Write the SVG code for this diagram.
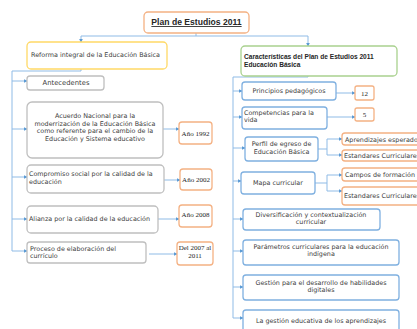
<svg xmlns="http://www.w3.org/2000/svg" width="417" height="329" viewBox="0 0 417 329">
  <defs>
    <marker id="arr" viewBox="0 0 6 6" refX="5" refY="3" markerWidth="4" markerHeight="4" orient="auto" markerUnits="userSpaceOnUse">
      <path d="M0,0 L6,3 L0,6 z" fill="#5b9bd5"/>
    </marker>
    <style>
      .box{fill:#fff;stroke-width:1.3}
      .gray{stroke:#bfbfbf}
      .blue{stroke:#7fb0e0}
      .orange{stroke:#f4b183}
      .yellow{stroke:#ffd966}
      .green{stroke:#a9d18e}
      .ln{fill:none;stroke:#8fbbe6;stroke-width:1}
      .ar{marker-end:url(#arr)}
      text{font-family:"DejaVu Sans","Liberation Sans",Arial,sans-serif;font-size:6.4px;fill:#404040}
      .c{text-anchor:middle}
      .b{font-family:"Liberation Sans",Arial,sans-serif;font-weight:bold;fill:#262626}
      .t{font-family:"Liberation Serif","Times New Roman",serif;font-size:7px;fill:#262626;text-anchor:middle}
    </style>
  </defs>

  <!-- connectors -->
  <g id="connectors">
    <path class="ln" d="M196,33 V36 M81,36 H308"/>
    <path class="ln ar" d="M81,36 V42"/>
    <path class="ln ar" d="M308,36 V46"/>
    <!-- left spine -->
    <path class="ln" d="M81,69 V71 H12 V251"/>
    <path class="ln ar" d="M12,81 H27"/>
    <path class="ln ar" d="M12,129 H27"/>
    <path class="ln ar" d="M12,177 H27"/>
    <path class="ln ar" d="M12,219 H27"/>
    <path class="ln ar" d="M12,251 H27"/>
    <path class="ln ar" d="M163,129 H179"/>
    <path class="ln ar" d="M164,180 H180"/>
    <path class="ln ar" d="M158,219 H179"/>
    <path class="ln ar" d="M149,254 H177"/>
    <!-- right spine -->
    <path class="ln" d="M308,76 V77 H233 V318"/>
    <path class="ln ar" d="M233,91 H242"/>
    <path class="ln ar" d="M233,117 H242"/>
    <path class="ln ar" d="M233,148 H245"/>
    <path class="ln ar" d="M233,181 H241"/>
    <path class="ln ar" d="M233,219 H243"/>
    <path class="ln ar" d="M233,251 H243"/>
    <path class="ln ar" d="M233,287 H243"/>
    <path class="ln ar" d="M233,318 H243"/>
    <path class="ln ar" d="M336,93 H355"/>
    <path class="ln ar" d="M327,117 H355"/>
    <path class="ln" d="M318,149 H327 V139 M327,149 V155"/>
    <path class="ln ar" d="M327,139 H342"/>
    <path class="ln ar" d="M327,155 H342"/>
    <path class="ln" d="M315,183 H327 V175 M327,183 V191"/>
    <path class="ln ar" d="M327,175 H342"/>
    <path class="ln ar" d="M327,191 H342"/>
  </g>

  <g id="title">
    <rect class="box orange" x="144" y="12" width="105" height="21" rx="4"/>
    <text class="b c" x="196.5" y="25" style="font-size:8.6px" text-decoration="underline">Plan de Estudios 2011</text>
  </g>

  <g id="reforma">
    <rect class="box yellow" x="27" y="42" width="140" height="27" rx="4"/>
    <text x="31" y="57">Reforma integral de la Educación Básica</text>
  </g>

  <g id="caracteristicas">
    <rect class="box green" x="241" y="46" width="156" height="30" rx="4"/>
    <text class="b" x="244" y="59" style="font-size:6.6px">Características del Plan de Estudios 2011</text>
    <text class="b" x="244" y="66.5" style="font-size:6.6px">Educación Básica</text>
  </g>

  <!-- left column -->
  <g id="antecedentes">
    <rect class="box gray" x="27" y="76" width="77" height="14" rx="3"/>
    <text class="c" x="66" y="84.5" style="font-size:6.8px">Antecedentes</text>
  </g>

  <g id="acuerdo">
    <rect class="box gray" x="27" y="102" width="136" height="56" rx="5"/>
    <text class="c" x="95" y="118">Acuerdo Nacional para la</text>
    <text class="c" x="95" y="125.5">moderrización de la Educación Básica</text>
    <text class="c" x="95" y="133">como referente para el cambio de la</text>
    <text class="c" x="95" y="140.5">Educación y Sistema educativo</text>
  </g>
  <g id="anio1992">
    <rect class="box orange" x="179" y="122" width="33" height="22" rx="3"/>
    <text class="t" x="195.5" y="135.5">Año 1992</text>
  </g>

  <g id="compromiso">
    <rect class="box gray" x="27" y="165" width="137" height="28" rx="4"/>
    <text x="29" y="176">Compromiso social por la calidad de la</text>
    <text x="29" y="184">educación</text>
  </g>
  <g id="anio2002">
    <rect class="box orange" x="180" y="169" width="32" height="21" rx="3"/>
    <text class="t" x="196" y="182">Año 2002</text>
  </g>

  <g id="alianza">
    <rect class="box gray" x="27" y="206" width="131" height="27" rx="4"/>
    <text x="29" y="221">Alianza por la calidad de la educación</text>
  </g>
  <g id="anio2008">
    <rect class="box orange" x="179" y="205" width="33" height="22" rx="3"/>
    <text class="t" x="195.5" y="216.5">Año 2008</text>
  </g>

  <g id="proceso">
    <rect class="box gray" x="27" y="242" width="119" height="21" rx="3"/>
    <text x="30" y="250.5">Proceso de elaboración del</text>
    <text x="30" y="257.5">currículo</text>
  </g>
  <g id="periodo">
    <rect class="box orange" x="177" y="242" width="36" height="23" rx="3"/>
    <text class="t" x="195" y="250">Del 2007 al</text>
    <text class="t" x="195" y="257.5">2011</text>
  </g>

  <!-- right column -->
  <g id="principios">
    <rect class="box blue" x="242" y="82" width="94" height="18" rx="3"/>
    <text class="c" x="289" y="92.5">Principios pedagógicos</text>
  </g>
  <g id="n12">
    <rect class="box orange" x="355" y="86" width="19" height="14" rx="2"/>
    <text class="t" x="364.5" y="95.5">12</text>
  </g>

  <g id="competencias">
    <rect class="box blue" x="242" y="107" width="85" height="22" rx="3"/>
    <text x="244" y="114.5">Competencias para la</text>
    <text x="244" y="122">vida</text>
  </g>
  <g id="n5">
    <rect class="box orange" x="355" y="108" width="19" height="13" rx="2"/>
    <text class="t" x="364.5" y="117">5</text>
  </g>

  <g id="perfil">
    <rect class="box blue" x="245" y="137" width="73" height="24" rx="3"/>
    <text class="c" x="281.5" y="146">Perfil de egreso de</text>
    <text class="c" x="281.5" y="154">Educación Básica</text>
  </g>
  <g id="aprendizajes">
    <rect class="box orange" x="342" y="133" width="90" height="12" rx="3"/>
    <text x="345" y="141.5">Aprendizajes esperados</text>
  </g>
  <g id="estandares1">
    <rect class="box orange" x="342" y="150" width="90" height="11" rx="3"/>
    <text x="344" y="158">Estandares Curriculares</text>
  </g>

  <g id="mapa">
    <rect class="box blue" x="241" y="172" width="74" height="22" rx="3"/>
    <text class="c" x="278" y="184.5">Mapa curricular</text>
  </g>
  <g id="campos">
    <rect class="box orange" x="342" y="168" width="90" height="13" rx="3"/>
    <text x="345" y="177">Campos de formación</text>
  </g>
  <g id="estandares2">
    <rect class="box orange" x="342" y="187" width="90" height="18" rx="3"/>
    <text x="344" y="197.5">Estandares Curriculares</text>
  </g>

  <g id="diversificacion">
    <rect class="box blue" x="243" y="209" width="137" height="21" rx="3"/>
    <text class="c" x="311" y="216.5">Diversificación y contextualización</text>
    <text class="c" x="311" y="224">curricular</text>
  </g>

  <g id="parametros">
    <rect class="box blue" x="243" y="240" width="156" height="25" rx="3"/>
    <text class="c" x="321" y="248.5">Parámetros curriculares para la educación</text>
    <text class="c" x="321" y="256">indígena</text>
  </g>

  <g id="gestion-digital">
    <rect class="box blue" x="243" y="275" width="156" height="25" rx="3"/>
    <text class="c" x="321" y="284.5">Gestión para el desarrollo de habilidades</text>
    <text class="c" x="321" y="292">digitales</text>
  </g>

  <g id="gestion-aprendizajes">
    <rect class="box blue" x="243" y="310" width="156" height="25" rx="3"/>
    <text class="c" x="321" y="322.5">La gestión educativa de los aprendizajes</text>
  </g>
</svg>
